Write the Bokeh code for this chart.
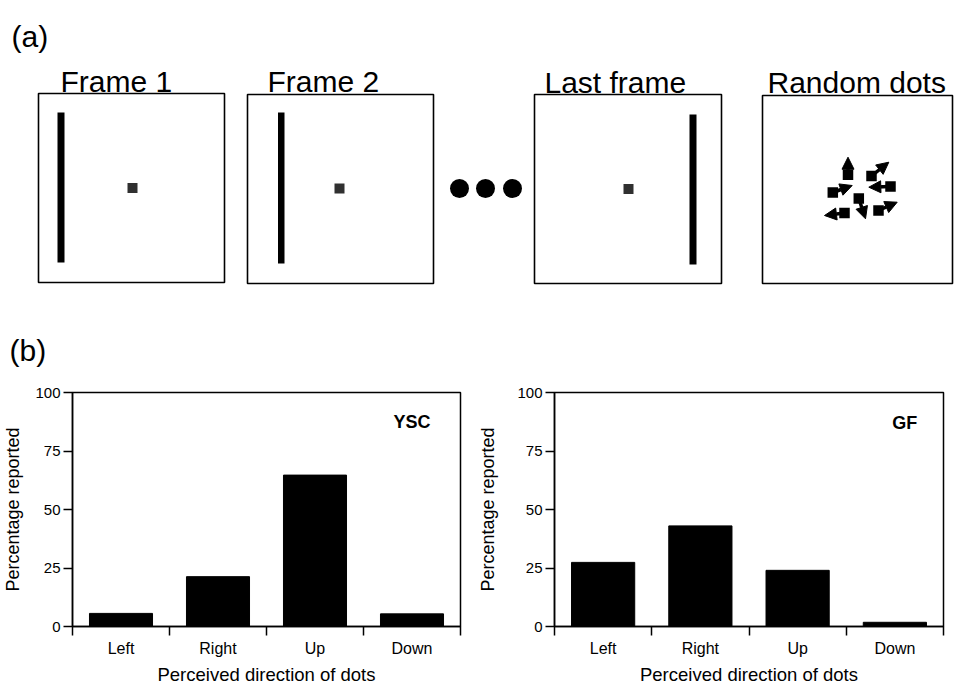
from bokeh.plotting import figure
from bokeh.models import Range1d, FixedTicker, ColumnDataSource, Arrow, NormalHead, Label
from bokeh.layouts import column, row
from bokeh.embed import file_html
from bokeh.resources import INLINE
from bokeh.core.properties import value

FONT = "Liberation Sans"

# ---------------- data (panel b) ----------------
directions = ["Left", "Right", "Up", "Down"]
ysc_pct = [5.6, 21.3, 64.7, 5.4]
gf_pct = [27.4, 43.0, 24.0, 1.8]
y_ticks = [0, 25, 50, 75, 100]

# ---------------- schematic (panel a), in picture pixels ----------------
panel_labels = ["(a)", "(b)"]
panel_label_x = [11, 9]
panel_label_y = [36, 350]
frame_titles = ["Frame 1", "Frame 2", "Last frame", "Random dots"]
title_x = [60, 267, 544, 767]
title_y = [81, 81, 82, 82]
box_left = [38, 247, 534, 762]
box_right = [224, 433, 721, 952]
box_top = [93, 94, 94, 95]
box_bottom = [282, 283, 283, 283]
line_left = [57, 277.5, 689]
line_right = [64, 284, 696]
line_top = [112, 112, 114]
line_bottom = [262, 263, 264]
fix_x = [132, 339, 628]
fix_y = [187.5, 188, 188.5]
ellipsis_x = [459, 485, 512]
ellipsis_y = [188, 188, 188]
rdot_x = [847.5, 871, 890, 832.3, 858.3, 844, 878]
rdot_y = [174.3, 175.5, 186, 192, 198, 212.5, 210]
rdot_tip_x = [847.5, 888.3, 868.3, 851.7, 865, 824, 896.7]
rdot_tip_y = [156.7, 161.7, 186.7, 185, 218.3, 215, 201.7]

TOP_H = 372
BOT_H = 315

# ---------------- top figure ----------------
top = figure(width=954, height=TOP_H, x_range=Range1d(0, 954), y_range=Range1d(TOP_H, 0),
             output_backend="svg", toolbar_location=None, min_border=0,
             x_axis_location=None, y_axis_location=None)
top.grid.visible = False
top.outline_line_color = None
top.background_fill_color = "white"
top.border_fill_color = "white"

top.quad(left=box_left, right=box_right, top=box_top, bottom=box_bottom,
         fill_color="white", line_color="black", line_width=1.6)
top.quad(left=line_left, right=line_right, top=line_top, bottom=line_bottom,
         fill_color="black", line_color=None)
top.scatter(x=fix_x, y=fix_y, marker="square", size=10, fill_color="#303030", line_color=None)
top.scatter(x=ellipsis_x, y=ellipsis_y, marker="circle", size=19, fill_color="black", line_color=None)

arrow_src = ColumnDataSource(dict(x0=rdot_x, y0=rdot_y, x1=rdot_tip_x, y1=rdot_tip_y))
top.add_layout(Arrow(x_start="x0", y_start="y0", x_end="x1", y_end="y1", source=arrow_src,
                     line_width=3.5, line_color="black",
                     end=NormalHead(size=12, fill_color="black", line_color="black", line_width=1)))
top.scatter(x=rdot_x, y=rdot_y, marker="square", size=10.5, fill_color="black", line_color=None)

top.text(x=title_x, y=title_y, text=frame_titles, text_font=value(FONT),
         text_font_size=value("30px"), text_align="left", text_baseline="alphabetic",
         text_color="black")
top.text(x=panel_label_x, y=panel_label_y, text=panel_labels, text_font=value(FONT),
         text_font_size=value("30px"), text_align="left", text_baseline="alphabetic",
         text_color="black")


# ---------------- bar charts ----------------
def bar_chart(vals, tag, width, b_left, b_right, b_top, b_bottom, ylab_standoff, tag_x, tag_y):
    xs = list(range(len(directions)))
    p = figure(width=width, height=BOT_H, x_range=Range1d(-0.5, len(directions) - 0.5),
               y_range=Range1d(0, 100), output_backend="svg", toolbar_location=None)
    p.min_border_left = b_left
    p.min_border_right = b_right
    p.min_border_top = b_top
    p.min_border_bottom = b_bottom
    p.grid.visible = False
    p.outline_line_color = "black"
    p.outline_line_width = 1.5
    p.background_fill_color = "white"
    p.border_fill_color = "white"

    p.vbar(x=xs, top=vals, width=0.65, fill_color="black", line_color="black")

    xa = p.xaxis[0]
    xa.ticker = FixedTicker(ticks=xs, minor_ticks=[i - 0.5 for i in range(len(directions) + 1)])
    xa.major_label_overrides = {i: d for i, d in enumerate(directions)}
    xa.major_tick_out = 0
    xa.major_tick_in = 0
    xa.minor_tick_out = 9
    xa.minor_tick_in = 0
    xa.minor_tick_line_color = "black"
    xa.minor_tick_line_width = 1.5
    xa.axis_line_color = "black"
    xa.axis_line_width = 1.5
    xa.major_label_standoff = 4
    xa.major_label_text_font = FONT
    xa.major_label_text_font_size = "16px"
    xa.major_label_text_color = "black"
    xa.axis_label = "Perceived direction of dots"
    xa.axis_label_standoff = 4
    xa.axis_label_text_font = FONT
    xa.axis_label_text_font_size = "18.5px"
    xa.axis_label_text_font_style = "normal"
    xa.axis_label_text_color = "black"

    ya = p.yaxis[0]
    ya.ticker = FixedTicker(ticks=y_ticks, minor_ticks=[])
    ya.major_tick_out = 9
    ya.major_tick_in = 0
    ya.major_tick_line_color = "black"
    ya.major_tick_line_width = 1.5
    ya.axis_line_color = "black"
    ya.axis_line_width = 1.5
    ya.major_label_standoff = 3
    ya.major_label_text_font = FONT
    ya.major_label_text_font_size = "15px"
    ya.major_label_text_color = "black"
    ya.axis_label = "Percentage reported"
    ya.axis_label_standoff = ylab_standoff
    ya.axis_label_text_font = FONT
    ya.axis_label_text_font_size = "18px"
    ya.axis_label_text_font_style = "normal"
    ya.axis_label_text_color = "black"

    p.add_layout(Label(x=tag_x, y=tag_y, text=tag, text_align="right", text_baseline="top",
                       text_font=FONT, text_font_size="18px", text_font_style="bold",
                       text_color="black"))
    return p


left = bar_chart(ysc_pct, "YSC", 475, 71, 15, 18, 61, 9, 3.19, 91.5)
right = bar_chart(gf_pct, "GF", 479, 78, 11, 20, 61, 16, 3.23, 91.4)

layout = column(top, row(left, right))
open("out.html", "w").write(file_html(layout, INLINE))
